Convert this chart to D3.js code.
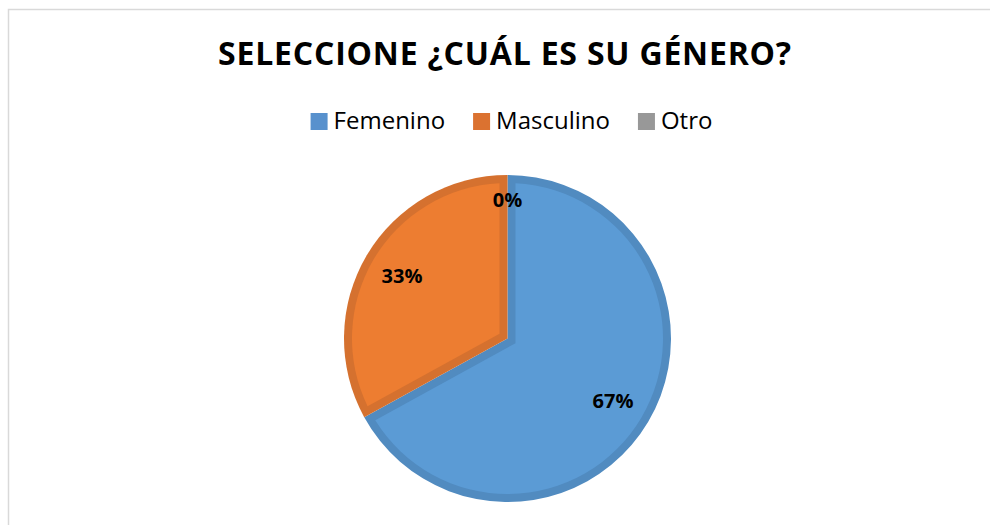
<!DOCTYPE html>
<html>
<head>
<meta charset="utf-8">
<script src="https://cdn.jsdelivr.net/npm/d3@7"></script>
<style>
  body { margin: 0; background: #fff; }
  text { font-family: "Open Sans", "Noto Sans", sans-serif; }
</style>
</head>
<body>
<div id="root"></div>
<script>
const categories = ["Femenino", "Masculino", "Otro"];
const values = [67, 33, 0];
const labels = ["67%", "33%", "0%"];
const mainColors = ["#5b9bd5", "#ed7d31", "#a5a5a5"];
const edgeColors = ["#518bc0", "#d5712f", "#949494"];
const legendColors = ["#5891cd", "#db7230", "#989898"];

const width = 990;
const height = 525;
const cx = 507.5, cy = 338.5, R = 163.5;
const bevel = 8;

const svg = d3.select("#root")
  .append("svg")
    .attr("width", width)
    .attr("height", height);

// chart area border
svg.append("rect")
    .attr("x", 8.5).attr("y", 9.5)
    .attr("width", width).attr("height", height)
    .style("fill", "none")
    .style("stroke", "#d9d9d9")
    .style("stroke-width", 1.5);

// title
svg.append("text")
    .attr("x", 505).attr("y", 65)
    .attr("text-anchor", "middle")
    .style("font-size", "32px")
    .style("letter-spacing", "0.8px")
    .style("font-weight", "bold")
    .style("fill", "#000")
    .text("SELECCIONE ¿CUÁL ES SU GÉNERO?");

// legend
const legend = svg.append("g");
let lx = 0;
categories.forEach((c, i) => {
  const item = legend.append("g").attr("transform", `translate(${lx},0)`);
  item.append("rect")
      .attr("x", 0).attr("y", -16)
      .attr("width", 17).attr("height", 17)
      .style("fill", legendColors[i]);
  const t = item.append("text")
      .attr("x", 23).attr("y", 0)
      .style("font-size", "24px")
      .style("fill", "#000")
      .text(c);
  lx += 23 + t.node().getComputedTextLength() + 28;
});
const legendW = lx - 28;
legend.attr("transform", `translate(${511.5 - legendW / 2},129)`);

// pie
const pie = d3.pie().sort(null).value(d => d);
const arcs = pie(values);

const outer = d3.arc().innerRadius(0).outerRadius(R);

// inset slice with mitred corner, to give the soft bevel look
const inset = d => {
  const a0 = d.startAngle, a1 = d.endAngle;
  if (a1 - a0 <= 0) return null;
  const r = R - bevel;
  const h = (a1 - a0) / 2;
  const mid = (a0 + a1) / 2;
  const vd = bevel / Math.sin(h);
  const delta = Math.asin(bevel / r);
  const p = d3.path();
  p.moveTo(vd * Math.sin(mid), -vd * Math.cos(mid));
  p.lineTo(r * Math.sin(a0 + delta), -r * Math.cos(a0 + delta));
  p.arc(0, 0, r, a0 + delta - Math.PI / 2, a1 - delta - Math.PI / 2);
  p.closePath();
  return p.toString();
};

const g = svg.append("g").attr("transform", `translate(${cx},${cy})`);

g.selectAll("path.edge")
  .data(arcs.filter(d => d.value > 0))
  .join("path")
    .attr("class", "edge")
    .attr("d", outer)
    .style("fill", d => edgeColors[d.index]);

g.selectAll("path.face")
  .data(arcs.filter(d => d.value > 0))
  .join("path")
    .attr("class", "face")
    .attr("d", inset)
    .style("fill", d => mainColors[d.index]);

// data labels
const labelArc = d => {
  const r = d.value === 0 ? R * 0.845 : R * 0.75;
  const a = (d.startAngle + d.endAngle) / 2;
  return [r * Math.sin(a), -r * Math.cos(a)];
};

g.selectAll("text")
  .data(arcs)
  .join("text")
    .attr("transform", d => `translate(${labelArc(d)})`)
    .attr("text-anchor", "middle")
    .attr("dy", "0.35em")
    .style("font-size", "20px")
    .style("font-weight", "bold")
    .style("fill", "#000")
    .text(d => labels[d.index]);
</script>
</body>
</html>
